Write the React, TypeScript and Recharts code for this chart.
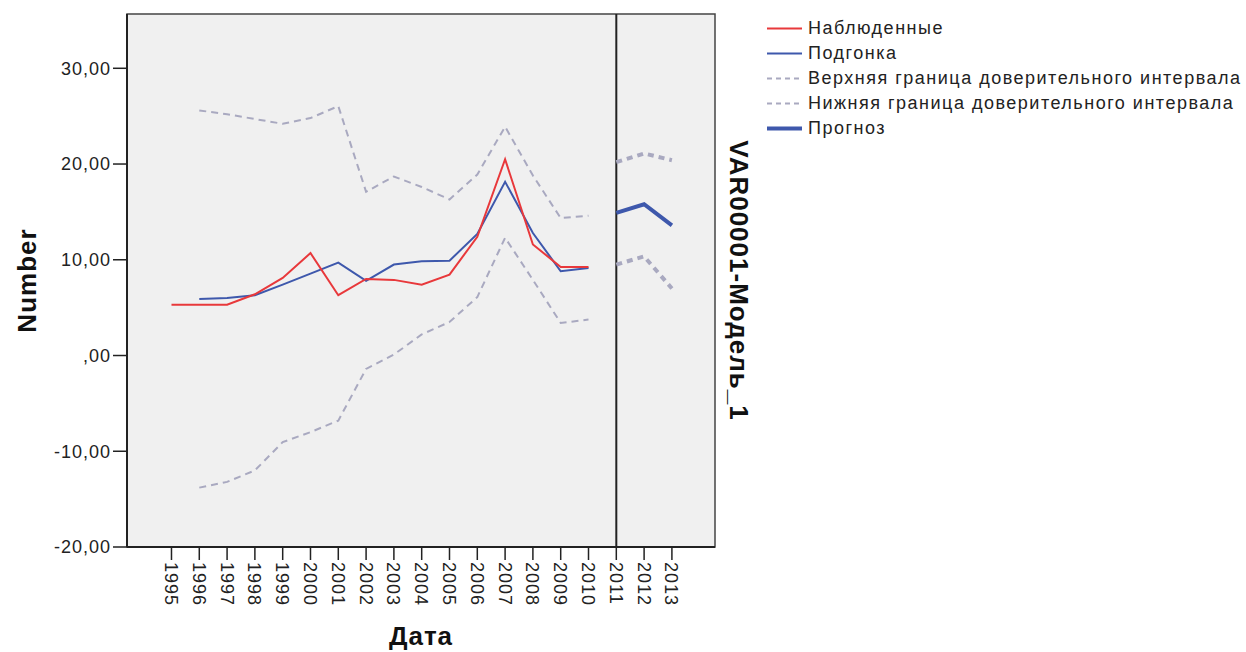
import React from 'react';
import {
  ComposedChart,
  Line,
  XAxis,
  YAxis,
  ReferenceLine,
  ReferenceArea,
  Legend,
  Label,
} from 'recharts';

// ---- data ----
const histYears = [1995, 1996, 1997, 1998, 1999, 2000, 2001, 2002, 2003, 2004, 2005, 2006, 2007, 2008, 2009, 2010];
const observed = [5.3, 5.3, 5.3, 6.4, 8.1, 10.7, 6.3, 8.0, 7.9, 7.4, 8.45, 12.4, 20.5, 11.6, 9.25, 9.25];

const fitYears = [1996, 1997, 1998, 1999, 2000, 2001, 2002, 2003, 2004, 2005, 2006, 2007, 2008, 2009, 2010];
const fitted = [5.9, 6.0, 6.3, 7.4, 8.55, 9.7, 7.8, 9.5, 9.85, 9.9, 12.7, 18.15, 12.8, 8.8, 9.15];
const upperCI = [25.6, 25.2, 24.7, 24.2, 24.8, 26.05, 17.1, 18.7, 17.6, 16.3, 18.9, 23.9, 18.8, 14.35, 14.6];
const lowerCI = [-13.8, -13.2, -12.0, -9.05, -8.0, -6.8, -1.4, 0.1, 2.2, 3.5, 6.1, 12.3, 7.9, 3.4, 3.75];

const forecastYears = [2011, 2012, 2013];
const forecast = [14.9, 15.8, 13.6];
const forecastUpper = [20.2, 21.1, 20.4];
const forecastLower = [9.5, 10.35, 7.0];

const yTicks = [-20, -10, 0, 10, 20, 30];
const yDomain = [-20, 35.67];
const xDomain = [1993.4, 2014.55];

const legendLabels = [
  'Наблюденные',
  'Подгонка',
  'Верхняя граница доверительного интервала',
  'Нижняя граница доверительного интервала',
  'Прогноз',
];

const xTitle = 'Дата';
const yTitle = 'Number';
const rightTitle = 'VAR00001-Модель_1';

// ---- build table ----
const allYears = [...histYears, ...forecastYears];
const rows = allYears.map((yr) => {
  const hi = histYears.indexOf(yr);
  const fi = fitYears.indexOf(yr);
  const pi = forecastYears.indexOf(yr);
  return {
    year: yr,
    observed: hi >= 0 ? observed[hi] : null,
    fitted: fi >= 0 ? fitted[fi] : null,
    upper: fi >= 0 ? upperCI[fi] : null,
    lower: fi >= 0 ? lowerCI[fi] : null,
    forecast: pi >= 0 ? forecast[pi] : null,
    fUpper: pi >= 0 ? forecastUpper[pi] : null,
    fLower: pi >= 0 ? forecastLower[pi] : null,
  };
});

const FONT = '"Liberation Sans", Arial, sans-serif';
const RED = '#e8383b';
const BLUE = '#3e58ac';
const CI = '#a9a9c0';
const TEXT = '#222';

const legendStyles = [
  { color: RED, width: 2, dash: undefined },
  { color: BLUE, width: 2, dash: undefined },
  { color: CI, width: 2, dash: '5 4' },
  { color: CI, width: 2, dash: '5 4' },
  { color: BLUE, width: 4, dash: undefined },
];

const fmt = (v: number) => (v === 0 ? ',00' : v.toFixed(2).replace('.', ','));

const XTick = (props: any) => {
  const { x, y, payload } = props;
  return (
    <text
      x={x}
      y={y}
      dy="0.36em"
      transform={`rotate(90, ${x}, ${y})`}
      textAnchor="start"
      fontSize={18}
      letterSpacing={1}
      fill={TEXT}
      fontFamily={FONT}
    >
      {payload.value}
    </text>
  );
};

const LegendContent = () => (
  <div style={{ fontFamily: FONT, fontSize: 18, letterSpacing: 1.5, color: TEXT }}>
    {legendLabels.map((lab, i) => (
      <div key={lab} style={{ display: 'flex', alignItems: 'center', height: 25, whiteSpace: 'nowrap' }}>
        <svg width={36} height={25} style={{ flex: 'none' }}>
          <line
            x1={0}
            y1={12.5}
            x2={35}
            y2={12.5}
            stroke={legendStyles[i].color}
            strokeWidth={legendStyles[i].width}
            strokeDasharray={legendStyles[i].dash}
          />
        </svg>
        <span style={{ marginLeft: 5 }}>{lab}</span>
      </div>
    ))}
  </div>
);

export default function App() {
  return (
    <div style={{ position: 'absolute', left: 0, top: 0, width: 1246, height: 652, background: '#fff', overflow: 'hidden' }}>
      <ComposedChart
        width={1246}
        height={652}
        data={rows}
        margin={{ top: 14, right: 531, left: 0, bottom: 0 }}
      >
        <ReferenceArea
          x1={xDomain[0]}
          x2={xDomain[1]}
          y1={yDomain[0]}
          y2={yDomain[1]}
          fill="#f0f0f0"
          fillOpacity={1}
          stroke="#444"
          strokeWidth={1.5}
          ifOverflow="visible"
        >
          <Label
            content={(p: any) => {
              const vb = p.viewBox || {};
              const cx = vb.x + vb.width + 24;
              const cy = vb.y + vb.height / 2;
              return (
                <text
                  x={cx}
                  y={cy}
                  dy="0.36em"
                  transform={`rotate(90, ${cx}, ${cy})`}
                  textAnchor="middle"
                  fontSize={26}
                  fontWeight="bold"
                  letterSpacing={1}
                  fill="#111"
                  fontFamily={FONT}
                >
                  {rightTitle}
                </text>
              );
            }}
          />
        </ReferenceArea>
        <XAxis
          dataKey="year"
          type="number"
          domain={xDomain}
          ticks={allYears}
          interval={0}
          allowDataOverflow
          height={105}
          tickSize={13}
          tickMargin={2}
          tick={<XTick />}
          axisLine={{ stroke: '#222', strokeWidth: 2 }}
          tickLine={{ stroke: '#222', strokeWidth: 1.5 }}
        >
          <Label
            content={(p: any) => {
              const vb = p.viewBox || {};
              return (
                <text
                  x={vb.x + vb.width / 2}
                  y={645}
                  textAnchor="middle"
                  fontSize={26}
                  fontWeight="bold"
                  letterSpacing={1}
                  fill="#111"
                  fontFamily={FONT}
                >
                  {xTitle}
                </text>
              );
            }}
          />
        </XAxis>
        <YAxis
          type="number"
          domain={yDomain}
          ticks={yTicks}
          allowDataOverflow
          width={127}
          tickSize={14}
          tickMargin={2}
          tickFormatter={fmt}
          tick={{ fontSize: 18, fill: TEXT, fontFamily: FONT, letterSpacing: 1 }}
          axisLine={{ stroke: '#222', strokeWidth: 2 }}
          tickLine={{ stroke: '#222', strokeWidth: 1.5 }}
        >
          <Label
            content={(p: any) => {
              const vb = p.viewBox || {};
              const cx = 27;
              const cy = vb.y + vb.height / 2;
              return (
                <text
                  x={cx}
                  y={cy}
                  dy="0.36em"
                  transform={`rotate(-90, ${cx}, ${cy})`}
                  textAnchor="middle"
                  fontSize={26}
                  fontWeight="bold"
                  letterSpacing={1}
                  fill="#111"
                  fontFamily={FONT}
                >
                  {yTitle}
                </text>
              );
            }}
          />
        </YAxis>
        <ReferenceLine x={forecastYears[0]} stroke="#222" strokeWidth={2} />
        <Line dataKey="upper" stroke={CI} strokeWidth={2} strokeDasharray="7 5" dot={false} activeDot={false} isAnimationActive={false} connectNulls={false} />
        <Line dataKey="lower" stroke={CI} strokeWidth={2} strokeDasharray="7 5" dot={false} activeDot={false} isAnimationActive={false} connectNulls={false} />
        <Line dataKey="fitted" stroke={BLUE} strokeWidth={2} dot={false} activeDot={false} isAnimationActive={false} connectNulls={false} />
        <Line dataKey="observed" stroke={RED} strokeWidth={2} dot={false} activeDot={false} isAnimationActive={false} connectNulls={false} />
        <Line dataKey="fUpper" stroke={CI} strokeWidth={4} strokeDasharray="6 5" dot={false} activeDot={false} isAnimationActive={false} connectNulls={false} />
        <Line dataKey="fLower" stroke={CI} strokeWidth={4} strokeDasharray="6 5" dot={false} activeDot={false} isAnimationActive={false} connectNulls={false} />
        <Line dataKey="forecast" stroke={BLUE} strokeWidth={4} dot={false} activeDot={false} isAnimationActive={false} connectNulls={false} />
        <Legend
          layout="vertical"
          align="center"
          verticalAlign="middle"
          content={<LegendContent />}
          wrapperStyle={{ left: 767, top: 15.5, width: 479, height: 130 }}
        />
      </ComposedChart>
    </div>
  );
}
